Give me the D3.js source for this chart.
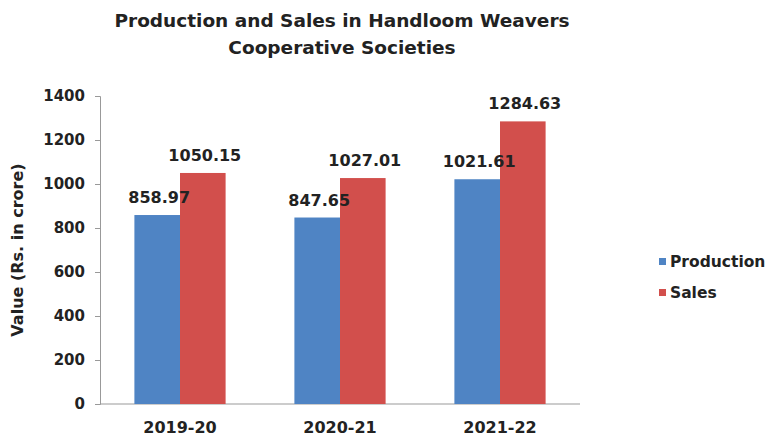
<!DOCTYPE html>
<html><head><meta charset="utf-8">
<script src="https://cdn.jsdelivr.net/npm/d3@7"></script>
<style>body{margin:0;background:#fff}svg{display:block}text{font-family:"DejaVu Sans",Verdana,sans-serif;font-weight:bold;fill:#222}</style>
</head><body><svg id="c" width="776" height="442"></svg>
<script>
const categories = ["2019-20", "2020-21", "2021-22"];
const seriesNames = ["Production", "Sales"];
const production = [858.97, 847.65, 1021.61];
const sales = [1050.15, 1027.01, 1284.63];
const yTicks = [0, 200, 400, 600, 800, 1000, 1200, 1400];
const colors = ["#4F84C4", "#D24F4C"];

const svg = d3.select("#c");
const m = {left: 100, right: 196, top: 96, bottom: 38};
const W = 776, H = 442;
const x0 = d3.scaleBand().domain(categories).range([m.left, W - m.right]).paddingInner(0.43).paddingOuter(0.215);
const x1 = d3.scaleBand().domain(seriesNames).range([0, x0.bandwidth()]);
const y = d3.scaleLinear().domain([0, 1400]).range([H - m.bottom, m.top]);
const color = d3.scaleOrdinal().domain(seriesNames).range(colors);
const vals = {Production: production, Sales: sales};

// title
svg.append("text").attr("x", 342).attr("y", 27).attr("text-anchor", "middle").style("font-size", "18.5px").text("Production and Sales in Handloom Weavers");
svg.append("text").attr("x", 342).attr("y", 54).attr("text-anchor", "middle").style("font-size", "18.5px").text("Cooperative Societies");

// y axis
const ya = svg.append("g").attr("transform", `translate(${m.left},0)`)
  .call(d3.axisLeft(y).tickValues(yTicks).tickSize(5).tickPadding(10).tickFormat(d3.format("d")));
ya.select(".domain").attr("stroke", "#999");
ya.selectAll(".tick line").attr("stroke", "#999");
ya.selectAll("text").style("font-size", "15px").attr("fill", "#222");

// x axis
const xa = svg.append("g").attr("transform", `translate(0,${y(0)})`)
  .call(d3.axisBottom(x0).tickSize(0).tickPadding(18));
xa.select(".domain").attr("stroke", "#999").attr("d", `M${m.left},0H${W - m.right}`);
xa.selectAll("text").style("font-size", "16px").attr("fill", "#222");

// bars
const g = svg.append("g");
const lbl = svg.append("g");
categories.forEach((c, i) => {
  seriesNames.forEach(s => {
    const v = vals[s][i];
    g.append("rect").attr("x", x0(c) + x1(s)).attr("width", x1.bandwidth())
      .attr("y", y(v)).attr("height", y(0) - y(v)).attr("fill", color(s));
    lbl.append("text").attr("x", x0(c) + x1(s) + x1.bandwidth() / 2 + 2).attr("y", y(v) - 12)
      .attr("text-anchor", "middle").style("font-size", "16px").text(v.toFixed(2));
  });
});

// y label
svg.append("text").attr("transform", `translate(23,250) rotate(-90)`).attr("text-anchor", "middle")
  .style("font-size", "16px").text("Value (Rs. in crore)");

// legend
const lg = svg.append("g").attr("transform", "translate(659,261)");
seriesNames.forEach((s, i) => {
  lg.append("rect").attr("x", 0).attr("y", i * 31 - 3).attr("width", 7).attr("height", 7).attr("fill", color(s));
  lg.append("text").attr("x", 11).attr("y", i * 31 + 6).style("font-size", "15.5px").text(s);
});
</script></body></html>
